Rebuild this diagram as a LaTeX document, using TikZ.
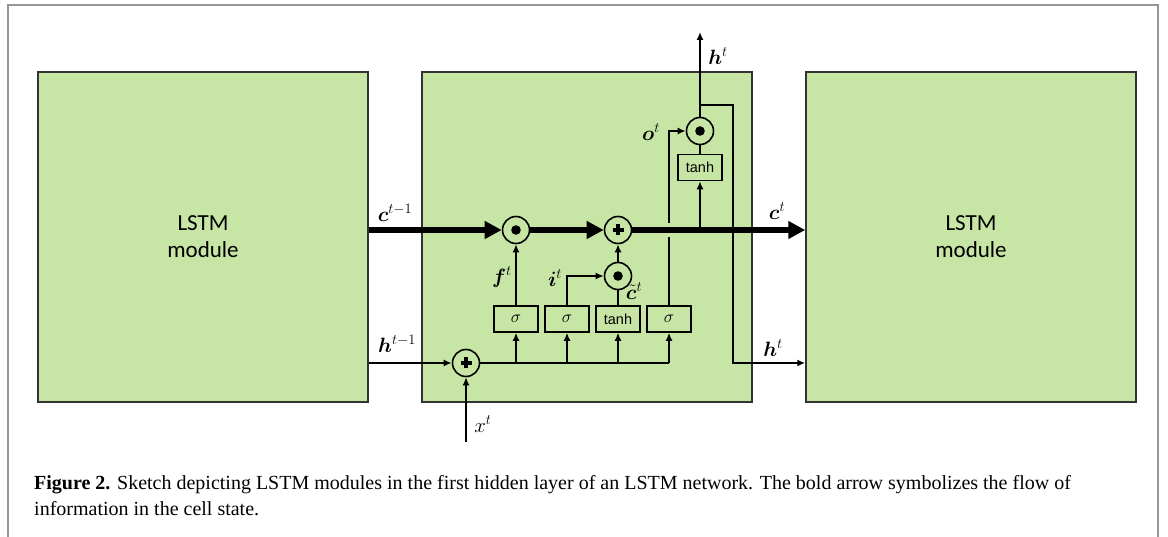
\documentclass[tikz,border=0pt]{standalone}
\usepackage{amsmath,bm}
\usepackage{fontspec}
\setmainfont{Liberation Serif}
\newfontfamily\calibri{Carlito}
\newfontfamily\arial{Liberation Sans}
\usetikzlibrary{arrows.meta}
\definecolor{cellgreen}{RGB}{199,229,165}
\definecolor{framegray}{RGB}{150,150,150}
\begin{document}
\begin{tikzpicture}[x=1pt,y=-1pt,
  mod/.style={draw=black!80, line width=1.5pt, fill=cellgreen, minimum width=330pt, minimum height=330pt, inner sep=0pt, align=center, font=\calibri\fontsize{23}{27}\selectfont},
  fnbox/.style={draw, line width=1.6pt, fill=cellgreen, minimum width=44pt, minimum height=26pt, inner sep=0pt},
  op/.style={draw, circle, line width=1.6pt, fill=cellgreen, minimum size=27pt, inner sep=0pt},
  mul/.style={op, path picture={\fill[black] (path picture bounding box.center) circle (4.8pt);}},
  plus/.style={op, path picture={
      \draw[black, line width=4pt] ([xshift=-5.5pt]path picture bounding box.center) -- ([xshift=5.5pt]path picture bounding box.center);
      \draw[black, line width=4pt] ([yshift=-5.5pt]path picture bounding box.center) -- ([yshift=5.5pt]path picture bounding box.center);}},
  thin/.style={line width=2.3pt},
  thinarr/.style={thin, -{Latex[length=8pt,width=7pt]}},
  thick/.style={line width=5.5pt},
  thickarr/.style={thick, -{Triangle[length=17pt,width=17pt]}},
  lab/.style={font=\fontsize{20.5}{24}\selectfont, inner sep=0pt},
  sig/.style={font=\fontsize{18}{20}\selectfont},
  tanhf/.style={font=\arial\fontsize{14.5}{16}\selectfont},
  captext/.style={anchor=base west, inner sep=0pt, font=\fontsize{20}{24}\selectfont}
]
\useasboundingbox (0,0) rectangle (1168,537);
\draw[framegray, line width=2pt] (8,545) -- (8,5) -- (1158,5) -- (1158,545);

% modules
\node[mod] (L) at (203,237) {LSTM\\module};
\node[mod] (M) at (587,237) {};
\node[mod] (R) at (971,237) {LSTM\\module};

% operators
\node[mul]  (fmul) at (516,230) {};
\node[plus] (add)  at (618,230) {};
\node[mul]  (imul) at (618,276) {};
\node[mul]  (omul) at (700,131) {};
\node[plus] (xadd) at (466,363) {};

% function boxes
\node[fnbox, sig]   (s1) at (516,319) {$\sigma$};
\node[fnbox, sig]   (s2) at (567,319) {$\sigma$};
\node[fnbox, tanhf] (t1) at (618,319) {tanh};
\node[fnbox, sig]   (s3) at (669,319) {$\sigma$};
\node[fnbox, tanhf] (t2) at (700,167.5) {tanh};

% coordinates
\coordinate (xin)  at (466,442);
\coordinate (gapb) at (669,237);
\coordinate (gapt) at (669,223);
\coordinate (htop) at (700,32);
\coordinate (hbr)  at (700,105);
\coordinate (hbx)  at (733,105);

% cell state
\draw[thickarr] (L.east |- fmul) -- (fmul);
\draw[thickarr] (fmul) -- (add);
\draw[thickarr] (add) -- (R.west |- add);

% hidden input
\draw[thinarr] (L.east |- xadd) -- (xadd);
\draw[thinarr] (xin) -- (xadd);
\draw[thin] (xadd) -- (s3 |- xadd);
\foreach \n in {s1,s2,t1,s3} \draw[thinarr] (\n |- xadd) -- (\n.south);

% gates
\draw[thinarr] (s1) -- (fmul);
\draw[thinarr] (s2.north) |- (imul);
\draw[thin] (t1) -- (imul);
\draw[thinarr] (imul) -- (add);
\draw[thin] (s3.north) -- (gapb);
\draw[thinarr] (gapt) |- (omul);
\draw[thinarr] (t2 |- add) -- (t2.south);
\draw[thin] (t2) -- (omul);
\draw[thinarr] (omul) -- (htop);
\draw[thinarr] (hbr) -- (hbx) |- (R.west |- xadd);

% labels
\node[lab] (lc0) at (395,213) {$\boldsymbol{c}^{t-1}$};
\node[lab] (lc1) at (777,211) {$\boldsymbol{c}^{t}$};
\node[lab] (lh0) at (397,344) {$\boldsymbol{h}^{t-1}$};
\node[lab] (lh1) at (773,348) {$\boldsymbol{h}^{t}$};
\node[lab] (lh2) at (718,56) {$\boldsymbol{h}^{t}$};
\node[lab] (lf)  at (502,277) {$\boldsymbol{f}^{t}$};
\node[lab] (li)  at (555,278) {$\boldsymbol{i}^{t}$};
\node[lab] (lct) at (634,291) {$\tilde{\boldsymbol{c}}^{t}$};
\node[lab] (lo)  at (651,132) {$\boldsymbol{o}^{t}$};
\node[lab] (lx)  at (483,424) {$x^{t}$};

% caption
\node[captext] (cap1) at (34,489) {\textbf{Figure 2.} Sketch depicting LSTM modules in the first hidden layer of an LSTM network. The bold arrow symbolizes the flow of};
\node[captext] (cap2) at (34,515) {information in the cell state.};
\end{tikzpicture}
\end{document}
